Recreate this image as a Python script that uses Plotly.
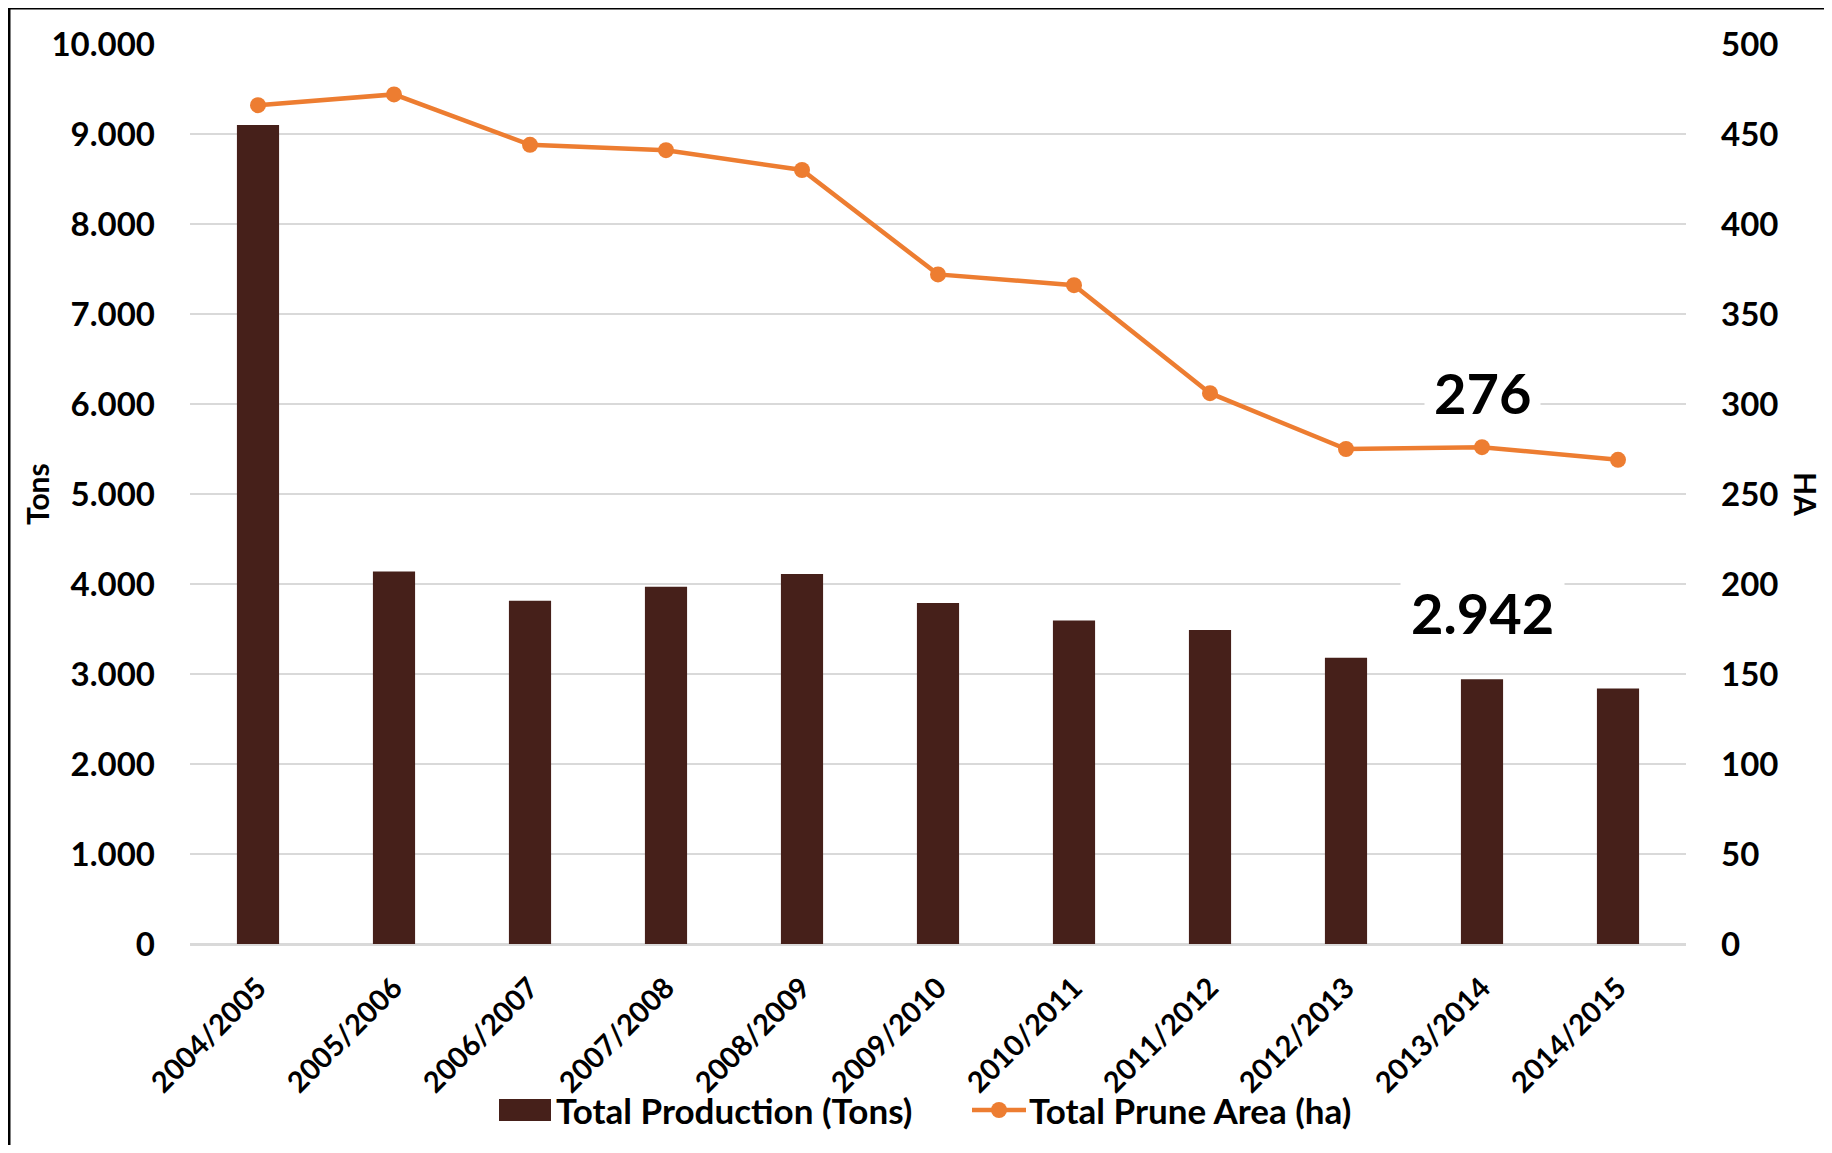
import plotly.graph_objects as go

seasons = ["2004/2005", "2005/2006", "2006/2007", "2007/2008", "2008/2009",
           "2009/2010", "2010/2011", "2011/2012", "2012/2013", "2013/2014", "2014/2015"]
production_tons = [9100, 4140, 3815, 3970, 4110, 3790, 3595, 3490, 3180, 2942, 2840]
prune_area_ha = [466, 472, 444, 441, 430, 372, 366, 306, 275, 276, 269]

tons_ticks = list(range(0, 10001, 1000))
ha_ticks = list(range(0, 501, 50))

label_season = "2013/2014"
label_tons = 2942
label_ha = 276

name_bar = "Total Production (Tons)"
name_line = "Total Prune Area (ha)"

BAR = "#46201A"
LINE = "#ED7D31"
FONT = "Lato"

# page geometry (page has an 8px body margin)
PL, PR, PT, PB = 190, 1686, 44, 944
PW, PH = PR - PL, PB - PT
FW, FH = 1816, 1137


def px(x):
    return (x - PL) / PW


def py(y):
    return (PB - y) / PH


fig = go.Figure()
fig.add_trace(go.Bar(
    x=seasons, y=production_tons, name=name_bar,
    marker=dict(color=BAR, line=dict(width=0)), width=0.31, yaxis="y",
))
fig.add_trace(go.Scatter(
    x=seasons, y=prune_area_ha, name=name_line, yaxis="y2",
    mode="lines+markers", line=dict(color=LINE, width=4.5),
    marker=dict(color=LINE, size=16),
))

fig.update_layout(
    width=FW, height=FH,
    margin=dict(l=PL - 8, r=FW - (PR - 8), t=PT - 8, b=FH - (PB - 8)),
    paper_bgcolor="white", plot_bgcolor="white",
    separators=",.",
    font=dict(family=FONT, color="black", size=32),
    showlegend=False,
    xaxis=dict(type="category", range=[-0.5, 10.5], tickangle=-45,
               showgrid=False, showline=False,
               ticks="", ticklabelstandoff=20,
               tickfont=dict(family=FONT, size=29, color="black", weight="bold")),
    yaxis=dict(range=[0, 10000], tickvals=tons_ticks, tickformat=",.0f",
               showgrid=True, gridcolor="#D9D9D9", gridwidth=2,
               zeroline=True, zerolinecolor="#D9D9D9", zerolinewidth=3,
               showline=False, ticks="", ticklabelstandoff=34,
               tickfont=dict(family=FONT, size=33, color="black", weight="bold")),
    yaxis2=dict(range=[0, 500], tickvals=ha_ticks, overlaying="y", side="right",
                showgrid=False, zeroline=False, showline=False, ticks="",
                ticklabelstandoff=34,
                tickfont=dict(family=FONT, size=33, color="black", weight="bold")),
    bargap=0.69,
    hovermode=False,
)

# value call-outs
fig.add_annotation(x=label_season, y=label_ha, yref="y2", text=str(label_ha),
                   showarrow=False, yshift=55, bgcolor="white", borderpad=9,
                   font=dict(family=FONT, size=56, color="black", weight="bold"))
fig.add_annotation(x=label_season, y=label_tons, yref="y",
                   text=f"{label_tons:,}".replace(",", "."),
                   showarrow=False, yshift=67, bgcolor="white", borderpad=10,
                   font=dict(family=FONT, size=56, color="black", weight="bold"))

# axis titles
fig.add_annotation(xref="paper", yref="paper", x=px(37), y=0.5, xanchor="center",
                   yanchor="middle", text="Tons", textangle=-90, showarrow=False,
                   font=dict(family=FONT, size=30, color="black", weight="bold"))
fig.add_annotation(xref="paper", yref="paper", x=px(1806), y=0.5, xanchor="center",
                   yanchor="middle", text="HA", textangle=90, showarrow=False,
                   font=dict(family=FONT, size=30, color="black", weight="bold"))

# legend (drawn manually to match swatch shapes)
LY = 1110
fig.add_shape(type="rect", xref="paper", yref="paper",
              x0=px(499), x1=px(551), y0=py(1099), y1=py(1121),
              fillcolor=BAR, line=dict(width=0))
fig.add_annotation(xref="paper", yref="paper", x=px(555), y=py(LY), xanchor="left",
                   yanchor="middle", text=name_bar, showarrow=False, borderpad=0,
                   font=dict(family=FONT, size=35, color="black", weight="bold"))
fig.add_shape(type="line", xref="paper", yref="paper",
              x0=px(972), x1=px(1026), y0=py(LY), y1=py(LY),
              line=dict(color=LINE, width=4.5))
fig.add_shape(type="circle", xref="paper", yref="paper",
              xsizemode="pixel", ysizemode="pixel",
              xanchor=px(999), yanchor=py(LY), x0=-8, x1=8, y0=-8, y1=8,
              fillcolor=LINE, line=dict(width=0))
fig.add_annotation(xref="paper", yref="paper", x=px(1028), y=py(LY), xanchor="left",
                   yanchor="middle", text=name_line, showarrow=False, borderpad=0,
                   font=dict(family=FONT, size=35, color="black", weight="bold"))

# outer frame (left and top edges visible)
fig.add_shape(type="line", xref="paper", yref="paper",
              x0=px(9), x1=px(9), y0=py(8), y1=py(1400),
              line=dict(color="black", width=3))
fig.add_shape(type="line", xref="paper", yref="paper",
              x0=px(9), x1=px(2000), y0=py(8), y1=py(8),
              line=dict(color="black", width=3))

fig.write_html("out.html")
